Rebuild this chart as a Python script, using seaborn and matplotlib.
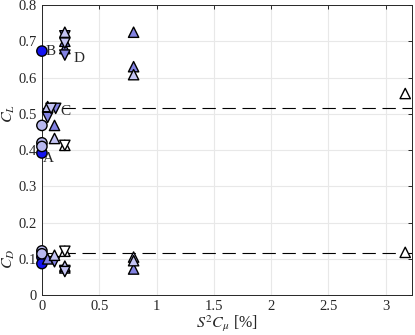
import numpy as np
import pandas as pd
import seaborn as sns
import matplotlib.pyplot as plt

# S^2 C_mu [%] and coefficient values, grouped by marker style
circle_dark_x = [0, 0, 0, 0]
circle_dark_y = [0.673, 0.392, 0.105, 0.087]
circle_light_x = [0, 0, 0, 0, 0]
circle_light_y = [0.468, 0.42, 0.41, 0.122, 0.114]
up_mid_x = [0.2, 0.2, 0.8, 0.8, 0.11, 0.05, 0.2, 0.8]
up_mid_y = [0.70, 0.68, 0.725, 0.63, 0.468, 0.10, 0.075, 0.072]
down_mid_x = [0.2, 0.2, 0.12, 0.05, 0.11, 0.2]
down_mid_y = [0.715, 0.662, 0.515, 0.49, 0.092, 0.068]
up_light_x = [0.2, 0.05, 0.11, 0.8, 0.11, 0.2, 0.8, 0.8]
up_light_y = [0.725, 0.52, 0.432, 0.608, 0.11, 0.08, 0.105, 0.095]
down_light_x = [0.2, 0.08, 0.2]
down_light_y = [0.695, 0.515, 0.065]
up_white_x = [0.2, 3.17, 0.2, 3.17]
up_white_y = [0.413, 0.556, 0.121, 0.118]
down_white_x = [0.2, 0.2]
down_white_y = [0.413, 0.121]

cl_ref = 0.517
cd_ref = 0.115

labels = ['A', 'B', 'C', 'D']
label_x = [0.01, 0.03, 0.165, 0.28]
label_y = [0.376, 0.673, 0.507, 0.652]

groups = {
    'circle_dark': (circle_dark_x, circle_dark_y),
    'circle_light': (circle_light_x, circle_light_y),
    'up_mid': (up_mid_x, up_mid_y),
    'down_mid': (down_mid_x, down_mid_y),
    'up_light': (up_light_x, up_light_y),
    'down_light': (down_light_x, down_light_y),
    'up_white': (up_white_x, up_white_y),
    'down_white': (down_white_x, down_white_y),
}
rows = []
for name, (xs, ys) in groups.items():
    for x, y in zip(xs, ys):
        rows.append({'x': x, 'y': y, 'group': name})
df = pd.DataFrame(rows)

palette = {
    'circle_dark': '#1414f0', 'circle_light': '#b8b8f0',
    'up_mid': '#8282e2', 'down_mid': '#8282e2',
    'up_light': '#c4c4f4', 'down_light': '#c4c4f4',
    'up_white': 'white', 'down_white': 'white',
}
markers = {
    'circle_dark': 'o', 'circle_light': 'o',
    'up_mid': '^', 'down_mid': 'v',
    'up_light': '^', 'down_light': 'v',
    'up_white': '^', 'down_white': 'v',
}

sns.set_style('whitegrid')
plt.rcParams['font.family'] = ['Liberation Serif', 'DejaVu Serif']
plt.rcParams['mathtext.fontset'] = 'stix'

fig = plt.figure(figsize=(4.15, 3.35), dpi=100)
ax = fig.add_axes([0.101, 0.119, 0.892, 0.866])

ax.axhline(cl_ref, color='black', lw=0.8, dashes=(12, 6), zorder=1)
ax.axhline(cd_ref, color='black', lw=0.8, dashes=(12, 6), zorder=1)

sns.scatterplot(data=df, x='x', y='y', hue='group', style='group',
                palette=palette, markers=markers, s=55, edgecolor='black',
                linewidth=1.0, legend=False, ax=ax, clip_on=False, zorder=3)

for t, tx, ty in zip(labels, label_x, label_y):
    ax.text(tx, ty, t, fontsize=11, va='center', ha='left')

ax.set_xlim(0, 3.23)
ax.set_ylim(0, 0.8)
ax.set_xticks(np.arange(0, 3.01, 0.5))
ax.set_xticklabels(['0', '0.5', '1', '1.5', '2', '2.5', '3'])
ax.set_yticks(np.arange(0, 0.81, 0.1))
ax.set_yticklabels(['0', '0.1', '0.2', '0.3', '0.4', '0.5', '0.6', '0.7', '0.8'])
ax.grid(True, color='#e8e8e8', lw=0.8)
ax.tick_params(direction='in', length=3, width=0.7, colors='#262626',
               labelsize=10.5, top=True, right=True, pad=3.5)
for s in ax.spines.values():
    s.set_color('#262626')
    s.set_linewidth(0.7)
ax.set_xlabel(r'$S^2C_\mu$ [%]', fontsize=11.5, labelpad=0)
ax.set_ylabel('')
ax.text(-0.285, 0.5, r'$C_L$', rotation=90, fontsize=11.5, va='center', ha='center')
ax.text(-0.285, 0.1, r'$C_D$', rotation=90, fontsize=11.5, va='center', ha='center')

fig.savefig('out.png', dpi=100)
